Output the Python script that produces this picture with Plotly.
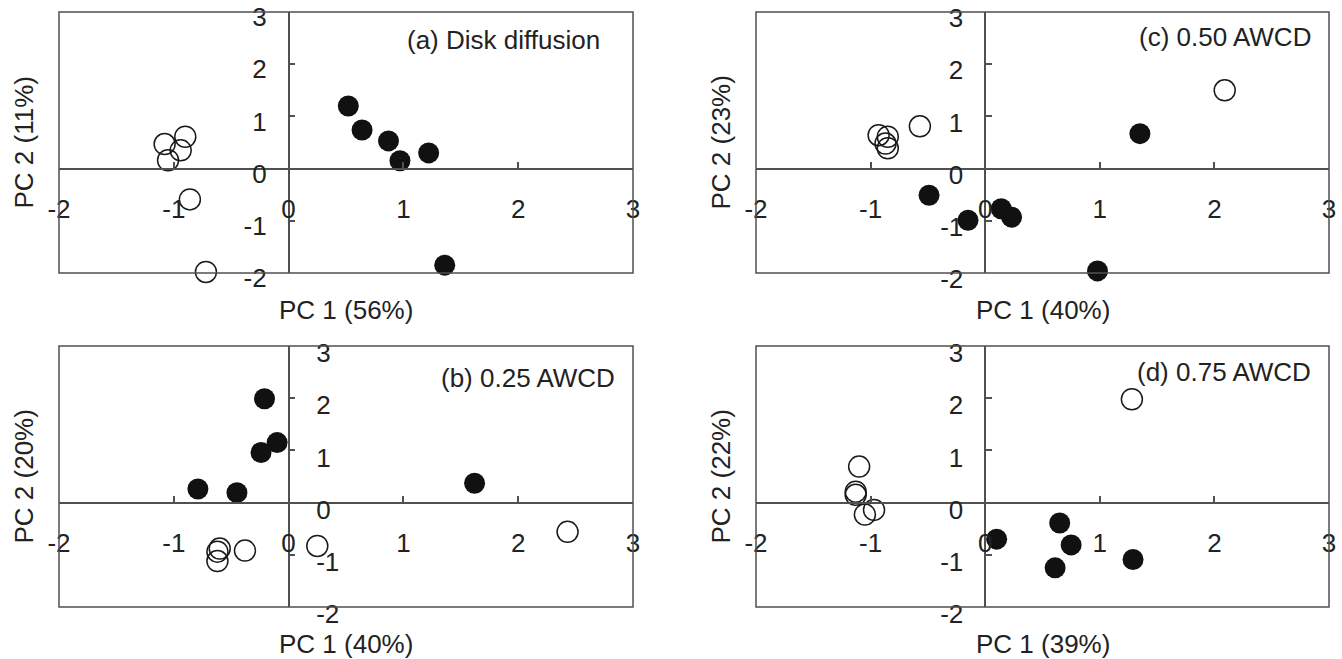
import plotly.graph_objects as go

# ---------------- data ----------------
tick_vals = [-2, -1, 0, 1, 2, 3]
tick_text = ["-2", "-1", "0", "1", "2", "3"]

panel_titles = ["(a) Disk diffusion", "(b) 0.25 AWCD", "(c) 0.50 AWCD", "(d) 0.75 AWCD"]
pc1_titles = ["PC 1 (56%)", "PC 1 (40%)", "PC 1 (40%)", "PC 1 (39%)"]
pc2_titles = ["PC 2 (11%)", "PC 2 (20%)", "PC 2 (23%)", "PC 2 (22%)"]

# (a) Disk diffusion
a_filled_pc1 = [0.52, 0.64, 0.87, 0.97, 1.22, 1.36]
a_filled_pc2 = [1.20, 0.74, 0.53, 0.15, 0.30, -1.85]
a_open_pc1 = [-1.08, -0.90, -0.94, -1.05, -0.86, -0.72]
a_open_pc2 = [0.47, 0.61, 0.35, 0.16, -0.59, -1.98]

# (b) 0.25 AWCD
b_filled_pc1 = [-0.21, -0.10, -0.24, -0.79, -0.45, 1.62]
b_filled_pc2 = [1.99, 1.15, 0.96, 0.26, 0.19, 0.37]
b_open_pc1 = [2.43, 0.25, -0.38, -0.60, -0.62, -0.62]
b_open_pc2 = [-0.56, -0.83, -0.92, -0.88, -0.94, -1.12]

# (c) 0.50 AWCD
c_filled_pc1 = [1.35, -0.49, -0.15, 0.14, 0.23, 0.98]
c_filled_pc2 = [0.67, -0.51, -0.99, -0.77, -0.93, -1.96]
c_open_pc1 = [2.09, -0.57, -0.93, -0.85, -0.87, -0.85]
c_open_pc2 = [1.50, 0.81, 0.64, 0.61, 0.48, 0.39]

# (d) 0.75 AWCD
d_filled_pc1 = [0.10, 0.65, 0.75, 0.61, 1.29]
d_filled_pc2 = [-0.70, -0.39, -0.81, -1.25, -1.09]
d_open_pc1 = [1.28, -1.10, -1.13, -1.13, -0.97, -1.05]
d_open_pc2 = [1.98, 0.69, 0.21, 0.15, -0.14, -0.23]

filled = [(a_filled_pc1, a_filled_pc2), (b_filled_pc1, b_filled_pc2),
          (c_filled_pc1, c_filled_pc2), (d_filled_pc1, d_filled_pc2)]
opened = [(a_open_pc1, a_open_pc2), (b_open_pc1, b_open_pc2),
          (c_open_pc1, c_open_pc2), (d_open_pc1, d_open_pc2)]

# ---------------- layout geometry (pixels) ----------------
W, H = 1342, 659
cols = {"L": (59, 633), "R": (756, 1329)}
rows = {"T": (12, 273), "B": (346, 607)}
panel_pos = [("L", "T"), ("L", "B"), ("R", "T"), ("R", "B")]
title_right_px = [602, 617, 1313, 1313]
title_y_px = [40, 378, 37, 372]
ylabel_shift = [5, 7, 6, 7]
ylabel_inside = [False, True, False, False]

LINE = "#505050"
INK = "#1a1a1a"
TXT = "#222222"
FONT = "Liberation Sans, Arial, sans-serif"
FS = 26

fig = go.Figure()
layout = dict(width=W, height=H, autosize=False, margin=dict(l=0, r=0, t=0, b=0, pad=0),
              plot_bgcolor="white", paper_bgcolor="white", showlegend=False,
              font=dict(family=FONT, size=FS, color=TXT))
shapes, annotations = [], []

for i in range(4):
    n = i + 1
    sx = "" if n == 1 else str(n)
    c, r = panel_pos[i]
    px0, px1 = cols[c]
    py0, py1 = rows[r]
    xd = [px0 / W, px1 / W]
    yd = [1 - py1 / H, 1 - py0 / H]
    xzero = xd[0] + 0.4 * (xd[1] - xd[0])
    yzero = yd[0] + 0.4 * (yd[1] - yd[0])

    common = dict(range=[-2, 3], anchor="free", showline=True, linecolor=LINE, linewidth=1.5,
                  ticks="inside", ticklen=6, tickwidth=1.5, tickcolor=LINE,
                  tickvals=tick_vals, ticktext=tick_text, showgrid=False, zeroline=False,
                  automargin=False, fixedrange=True, ticklabeloverflow="allow",
                  tickfont=dict(family=FONT, size=FS, color=TXT))
    layout["xaxis" + sx] = dict(domain=xd, position=yzero, ticklabelstandoff=17, **common)
    yax = dict(domain=yd, position=xzero, ticklabelshift=ylabel_shift[i], **common)
    if ylabel_inside[i]:
        yax.update(ticklabelposition="inside", ticklabelstandoff=23)
    else:
        yax.update(ticklabelstandoff=16)
    layout["yaxis" + sx] = yax

    fx, fy = filled[i]
    ox, oy = opened[i]
    fig.add_trace(go.Scatter(x=ox, y=oy, mode="markers", xaxis="x" + sx, yaxis="y" + sx,
                             cliponaxis=False,
                             marker=dict(symbol="circle-open", size=21, color=INK,
                                         line=dict(color=INK, width=1.5))))
    fig.add_trace(go.Scatter(x=fx, y=fy, mode="markers", xaxis="x" + sx, yaxis="y" + sx,
                             cliponaxis=False,
                             marker=dict(symbol="circle", size=21, color="#111111",
                                         line=dict(width=0))))

    shapes.append(dict(type="rect", xref="x" + sx + " domain", yref="y" + sx + " domain",
                       x0=0, x1=1, y0=0, y1=1, line=dict(color=LINE, width=1.5),
                       layer="above"))

    annotations.append(dict(text=panel_titles[i], xref="paper", yref="paper",
                            x=title_right_px[i] / W, y=1 - title_y_px[i] / H,
                            xanchor="right", yanchor="middle", showarrow=False,
                            font=dict(family=FONT, size=FS, color=TXT)))
    annotations.append(dict(text=pc1_titles[i], xref="paper", yref="paper",
                            x=(xd[0] + xd[1]) / 2, y=1 - (py1 + 37) / H,
                            xanchor="center", yanchor="middle", showarrow=False,
                            font=dict(family=FONT, size=FS, color=TXT)))
    annotations.append(dict(text=pc2_titles[i], xref="paper", yref="paper",
                            x=(px0 - 36) / W, y=(yd[0] + yd[1]) / 2, textangle=-90,
                            xanchor="center", yanchor="middle", showarrow=False,
                            font=dict(family=FONT, size=FS, color=TXT)))

layout["shapes"] = shapes
layout["annotations"] = annotations
fig.update_layout(**layout)

fig.write_html("out.html", config={"displayModeBar": False},
               post_script="document.body.style.margin='0';document.body.style.overflow='hidden';")
